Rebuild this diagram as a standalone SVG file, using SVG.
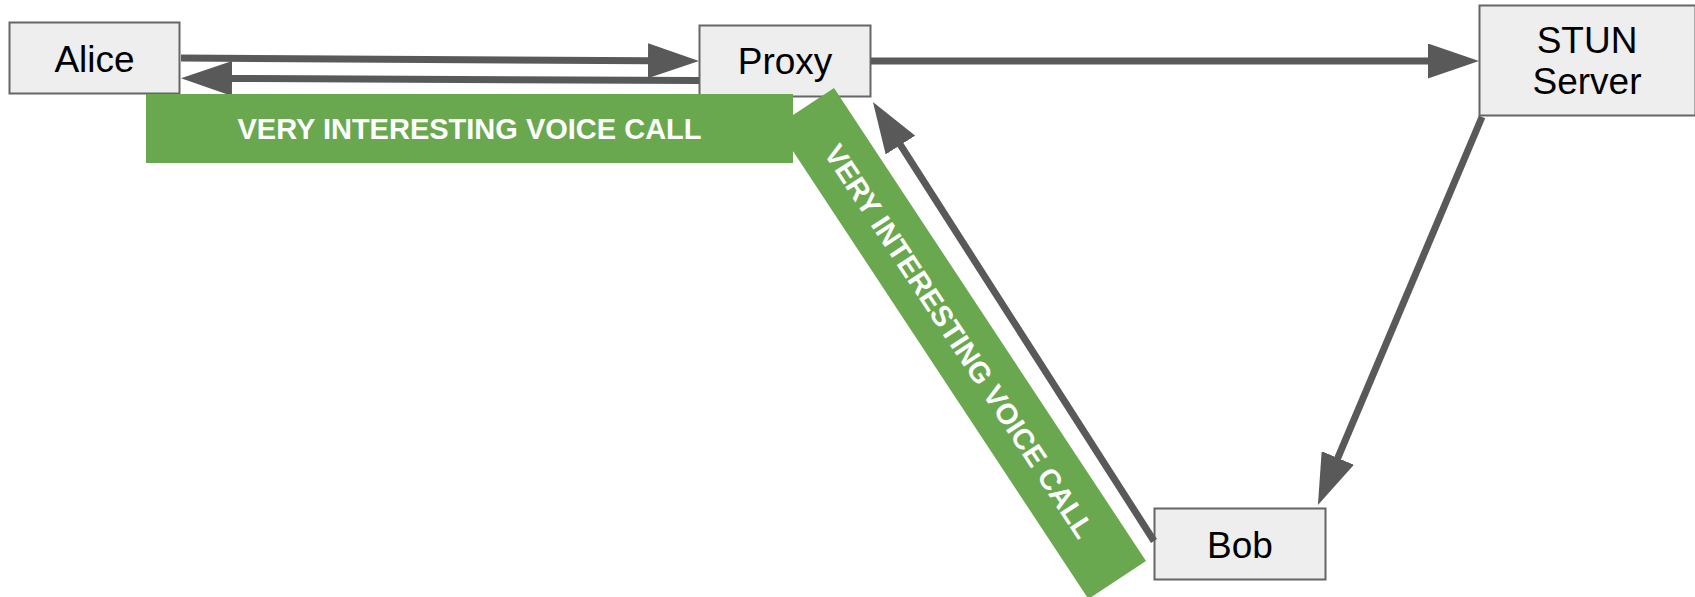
<svg xmlns="http://www.w3.org/2000/svg" width="1695" height="597" viewBox="0 0 1695 597">
  <style>
    .box { fill: #eeeeee; stroke: #666666; stroke-width: 2; }
    .lbl { font-family: "Liberation Sans", Arial, sans-serif; font-size: 37px; fill: #000000; text-anchor: middle; }
    .wire { stroke: #595959; stroke-width: 7; fill: none; marker-end: url(#arrow); }
    .band { fill: #6aa84f; }
    .bandtxt { font-family: "Liberation Sans", Arial, sans-serif; font-weight: bold; font-size: 29px; fill: #ffffff; text-anchor: middle; }
  </style>
  <defs>
    <marker id="arrow" markerUnits="userSpaceOnUse" viewBox="0 0 52 35" markerWidth="52" markerHeight="35" refX="1" refY="17.5" orient="auto">
      <path d="M0,0 L51,17.5 L0,35 z" fill="#595959"/>
    </marker>
  </defs>

  <!-- nodes -->
  <g id="alice">
    <rect class="box" x="9.5" y="22.5" width="170" height="71"/>
    <text class="lbl" x="94.5" y="72">Alice</text>
  </g>
  <g id="proxy">
    <rect class="box" x="699.5" y="25.5" width="171" height="71"/>
    <text class="lbl" x="785" y="74">Proxy</text>
  </g>
  <g id="stun">
    <rect class="box" x="1479.5" y="5.5" width="216" height="110"/>
    <text class="lbl" x="1587" y="53">STUN</text>
    <text class="lbl" x="1587" y="94">Server</text>
  </g>
  <g id="bob">
    <rect class="box" x="1154.5" y="508.5" width="171" height="71"/>
    <text class="lbl" x="1240" y="558">Bob</text>
  </g>

  <!-- connectors -->
  <g id="connectors">
    <line class="wire" x1="181" y1="58" x2="649" y2="60.7"/>
    <line class="wire" x1="699" y1="80.5" x2="231" y2="78.5"/>
    <line class="wire" x1="871" y1="61" x2="1429" y2="61"/>
    <line class="wire" x1="1482" y1="117" x2="1337.4" y2="458.9"/>
    <line class="wire" x1="1154" y1="541" x2="899.9" y2="144.2"/>
  </g>

  <!-- call banners -->
  <g id="call-banner-1">
    <rect class="band" x="146" y="94" width="647" height="69"/>
    <text class="bandtxt" x="469.5" y="138.5">VERY INTERESTING VOICE CALL</text>
  </g>
  <g id="call-banner-2" transform="translate(961.2,343.5) rotate(56.59)">
    <rect class="band" x="-283.3" y="-34.5" width="566.6" height="69"/>
    <text class="bandtxt" x="-3" y="10.5">VERY INTERESTING VOICE CALL</text>
  </g>
</svg>
